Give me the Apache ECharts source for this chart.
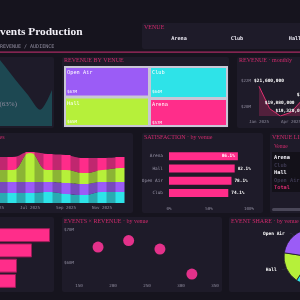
<!DOCTYPE html>
<html>
<head>
<meta charset="utf-8">
<script src="https://cdn.jsdelivr.net/npm/echarts@6/dist/echarts.min.js"></script>
<style>
html, body {margin: 0; padding: 0; background: #16141e;}
#chart {width: 300px; height: 300px;}
</style>
</head>
<body>
<div id="chart"></div>
<script>
// ---- data ----
const venues = ['Arena', 'Club', 'Hall', 'Open Air'];
const venueColors = ['#ff2d8a', '#2ee3e8', '#b6f03a', '#9b5cf6'];
const revenueByVenue = [56.6, 64.2, 64.8, 66.8];      // $M
const eventsByVenue = [316, 269, 178, 223];

const satisfactionCats = ['Arena', 'Hall', 'Open Air', 'Club'];
const satisfactionVals = [86.1, 82.1, 78.1, 74.1];

const months = ['Jan 2025', 'Feb 2025', 'Mar 2025', 'Apr 2025', 'May 2025', 'Jun 2025',
    'Jul 2025', 'Aug 2025', 'Sep 2025', 'Oct 2025', 'Nov 2025', 'Dec 2025'];
const monthlyRevenue = [21600000, 19880000, 19320000, 19600000, 20500000, 21000000,
    20400000, 21200000, 20100000, 20800000, 21300000, 21900000];

// stacked monthly mix (bottom -> top)
const mixClub = [21, 19, 22, 20, 20, 20, 20, 22, 18, 16, 22, 22];
const mixOpenAir = [21, 23, 20, 22, 22, 22, 22, 20, 22, 22, 20, 20];
const mixHall = [24, 26, 23, 25, 24, 24, 58, 24, 26, 22, 24, 28];
const mixArena = [25, 27, 24, 26, 26, 26, 2, 32, 30, 30, 24, 22];

const trendCats = ['W1', 'W2', 'W3', 'W4', 'W5', 'W6'];
const trendVals = [88, 71, 53, 36, 19, 42];

const attendanceCats = ['Arena', 'Club', 'Open Air', 'Hall'];
const attendanceVals = [45, 36, 28.5, 28];

// ---- styles ----
const PANEL = '#1e1b29';
const PINK = '#d02a6c';
const GREY = '#8d8a9c';
const MONO = '"DejaVu Sans Mono", monospace';
const SERIF = '"Liberation Serif", serif';

function panel(x, y, w, h) {
    return {type: 'rect', shape: {x: x, y: y, width: w, height: h, r: 2}, style: {fill: PANEL}, z: 0};
}
function txt(text, x, y, font, fill, align) {
    return {
        type: 'text', x: x, y: y, z: 20,
        style: {text: text, font: font, fill: fill, textAlign: align || 'left', textVerticalAlign: 'middle',
            align: align || 'left', verticalAlign: 'middle'}
    };
}
function grid(left, top, width, height) {
    return {left: left, top: top, width: width, height: height, containLabel: false, outerBoundsMode: 'none'};
}
const titleFont = '6px ' + SERIF;

const graphics = [
    panel(142, 23, 170, 26),
    {type: 'rect', shape: {x: 0, y: 51.5, width: 300, height: 1.3}, style: {fill: '#a82a62'}, z: 1},
    panel(-5, 57, 59, 71), panel(62, 57, 167, 71), panel(237, 57, 80, 71),
    panel(-5, 133, 138, 80), panel(142, 133, 121, 80), panel(270, 133, 40, 80),
    panel(-5, 217, 59, 75), panel(62, 217, 160, 75), panel(229, 217, 80, 75),
    {type: 'rect', shape: {x: 272, y: 152, width: 40, height: 40}, style: {fill: '#131119'}, z: 1},
    {type: 'rect', shape: {x: 272, y: 208, width: 40, height: 3, r: 1.5}, style: {fill: '#4a4758'}, z: 1},

    txt('Events Production', -7.5, 32.5, 'bold 11.4px ' + SERIF, '#f2f0f7'),
    txt('REVENUE / AUDIENCE', 0, 47, '5px ' + MONO, GREY),
    txt('VENUE', 144, 27, titleFont, PINK),
    txt('Arena', 179, 39, 'bold 5.2px ' + MONO, '#e8e6f0', 'center'),
    txt('Club', 237, 39, 'bold 5.2px ' + MONO, '#e8e6f0', 'center'),
    txt('Hall', 295, 39, 'bold 5.2px ' + MONO, '#e8e6f0', 'center'),

    txt('REVENUE BY VENUE', 64, 60.5, titleFont, PINK),
    txt('REVENUE · monthly', 239, 60.5, titleFont, PINK),
    txt('(63%)', 17, 104, '7px ' + SERIF, GREY, 'right'),

    txt('MIX · venues', 4.5, 137.5, titleFont, PINK, 'right'),
    txt('SATISFACTION · by venue', 144, 137.5, titleFont, PINK),
    txt('VENUE LIST', 272, 137.5, titleFont, PINK),
    txt('Venue', 274, 146.5, '5.5px ' + SERIF, PINK),
    txt('Arena', 274, 158, 'bold 5.3px ' + MONO, '#f0eef6'),
    txt('Club', 274, 165.5, 'bold 5.3px ' + MONO, '#3c3850'),
    txt('Hall', 274, 173, 'bold 5.3px ' + MONO, '#f0eef6'),
    txt('Open Air', 274, 180.5, 'bold 5.3px ' + MONO, '#3c3850'),
    txt('Total', 274, 188, 'bold 5.3px ' + MONO, PINK),

    txt('EVENTS × REVENUE · by venue', 64, 221, titleFont, PINK),
    txt('EVENT SHARE · by venue', 231, 221, titleFont, PINK)
];

const axisLabelBase = {fontFamily: MONO, fontSize: 4.2, color: GREY};
const hidden = {axisLine: {show: false}, axisTick: {show: false}, splitLine: {show: false}};

function mixLine(name, data, color) {
    return {name: name, type: 'line', xAxisIndex: 2, yAxisIndex: 2, stack: 'area', data: data, smooth: true,
        symbol: 'none', lineStyle: {width: 0}, areaStyle: {color: color, opacity: 0.72}, itemStyle: {color: color}};
}
function mixBar(name, data, color) {
    return {name: name, type: 'bar', xAxisIndex: 2, yAxisIndex: 2, stack: 'bar', data: data, barWidth: 9,
        itemStyle: {color: color}};
}

const option = {
    backgroundColor: '#16141e',
    animation: false,
    graphic: graphics,
    grid: [
        grid(-8, 40, 60, 86),
        grid(259, 81, 117.3, 35),
        grid(-87, 143, 216, 60),
        grid(169, 150, 80, 49),
        grid(-40, 227.5, 200, 61),
        grid(79, 230, 136, 46)
    ],
    xAxis: [
        Object.assign({gridIndex: 0, type: 'category', data: trendCats, boundaryGap: false, axisLabel: {show: false}}, hidden),
        Object.assign({gridIndex: 1, type: 'category', data: months, boundaryGap: false,
            axisLabel: Object.assign({interval: 2, margin: 4}, axisLabelBase)}, hidden),
        Object.assign({gridIndex: 2, type: 'category', data: months,
            axisLabel: Object.assign({interval: 1, margin: 3}, axisLabelBase)}, hidden),
        Object.assign({gridIndex: 3, type: 'value', min: 0, max: 100, interval: 50,
            axisLabel: Object.assign({margin: 8, formatter: '{value}%'}, axisLabelBase)}, hidden),
        Object.assign({gridIndex: 4, type: 'value', min: 0, max: 100, axisLabel: {show: false}}, hidden),
        Object.assign({gridIndex: 5, type: 'value', min: 150, max: 350, interval: 50,
            axisLabel: Object.assign({margin: 8}, axisLabelBase)}, hidden)
    ],
    yAxis: [
        Object.assign({gridIndex: 0, type: 'value', min: 0, max: 100, axisLabel: {show: false}}, hidden),
        Object.assign({gridIndex: 1, type: 'value', min: 'dataMin', max: 22000000, splitNumber: 2,
            axisLabel: Object.assign({margin: 8, formatter: function (v) {
                const m = v / 1e6;
                return (Math.abs(m - Math.round(m)) < 1e-6 && Math.round(m) % 2 === 0) ? '$' + Math.round(m) + 'M' : '';
            }}, axisLabelBase)}, hidden),
        Object.assign({gridIndex: 2, type: 'value', min: 0, max: 120, axisLabel: {show: false}}, hidden),
        Object.assign({gridIndex: 3, type: 'category', data: satisfactionCats, inverse: true,
            axisLabel: Object.assign({margin: 6}, axisLabelBase, {fontSize: 4.4, color: '#9995a8'})}, hidden),
        Object.assign({gridIndex: 4, type: 'category', data: attendanceCats, inverse: true, axisLabel: {show: false}}, hidden),
        Object.assign({gridIndex: 5, type: 'value', min: 56, max: 70, interval: 2,
            axisLabel: Object.assign({margin: 5, formatter: function (v) {
                return v % 10 === 0 ? '$' + v + 'M' : '';
            }}, axisLabelBase)}, hidden)
    ],
    series: [
        {type: 'line', xAxisIndex: 0, yAxisIndex: 0, data: trendVals, smooth: 0.3, symbol: 'none',
            lineStyle: {width: 0}, areaStyle: {color: '#1d4852', opacity: 1}},

        {type: 'line', xAxisIndex: 1, yAxisIndex: 1, data: monthlyRevenue, symbol: 'circle', symbolSize: 0.1,
            showSymbol: true, itemStyle: {color: '#e0306f'},
            lineStyle: {width: 1, color: '#e0306f'}, areaStyle: {color: 'rgba(224,48,111,0.38)'},
            label: {show: true, position: 'top', distance: 3, fontFamily: MONO, fontSize: 4.5,
                fontWeight: 'bold', color: '#fff',
                formatter: function (p) { return '$' + p.value.toLocaleString('en-US'); }},
            labelLayout: {hideOverlap: true, dx: 10}},

        mixLine('Club', mixClub, venueColors[1]),
        mixLine('Open Air', mixOpenAir, venueColors[3]),
        mixLine('Hall', mixHall, venueColors[2]),
        mixLine('Arena', mixArena, venueColors[0]),
        mixBar('Club', mixClub, venueColors[1]),
        mixBar('Open Air', mixOpenAir, venueColors[3]),
        mixBar('Hall', mixHall, venueColors[2]),
        mixBar('Arena', mixArena, venueColors[0]),

        {type: 'bar', xAxisIndex: 3, yAxisIndex: 3, barWidth: 8, itemStyle: {color: '#ff2d8a'},
            data: satisfactionVals.map(function (v, i) {
                return i === 0 ? {value: v, label: {position: 'insideRight'}} : v;
            }),
            label: {show: true, position: 'right', distance: 3, fontFamily: MONO, fontSize: 4.4, fontWeight: 'bold', color: '#fff',
                formatter: function (p) { return p.value.toFixed(1) + '%'; }}},

        {type: 'bar', xAxisIndex: 4, yAxisIndex: 4, barWidth: 14, data: attendanceVals,
            itemStyle: {color: '#ff2d8a', borderColor: '#9c1d58', borderWidth: 1}},

        {type: 'scatter', xAxisIndex: 5, yAxisIndex: 5, symbolSize: 11, itemStyle: {color: '#e3318a', opacity: 1},
            data: venues.map(function (v, i) { return [eventsByVenue[i], revenueByVenue[i]]; })},

        {type: 'treemap', left: 64, top: 66, width: 164, height: 61, roam: false, nodeClick: false,
            breadcrumb: {show: false},
            itemStyle: {borderColor: '#c9c6d6', borderWidth: 1, gapWidth: 1},
            label: {show: true, position: 'insideTopLeft', padding: [1, 1],
                formatter: function (p) { return '{n|' + p.name + '}\n{v|$' + Math.round(p.value) + 'M}'; },
                rich: {
                    n: {fontFamily: MONO, fontSize: 5.3, color: '#fff', lineHeight: 8},
                    v: {fontFamily: MONO, fontSize: 4.2, color: '#fff', lineHeight: 8, padding: [21, 0, 0, 0]}
                }},
            levels: [{itemStyle: {borderColor: '#c9c6d6', borderWidth: 1, gapWidth: 1}}],
            data: venues.map(function (v, i) {
                return {name: v, value: revenueByVenue[i], itemStyle: {color: venueColors[i]}};
            })},

        {type: 'pie', center: [312, 257], radius: 28, startAngle: 90,
            itemStyle: {borderColor: PANEL, borderWidth: 0.8},
            label: {fontFamily: MONO, fontSize: 4.5, fontWeight: 'bold', color: '#fff'},
            labelLine: {length: 3, length2: 2, lineStyle: {color: '#3a3750', width: 0.5}},
            data: venues.map(function (v, i) {
                return {name: v, value: eventsByVenue[i], itemStyle: {color: venueColors[i]}};
            })}
    ]
};

const chart = echarts.init(document.getElementById('chart'));
chart.setOption(option);
</script>
</body>
</html>
